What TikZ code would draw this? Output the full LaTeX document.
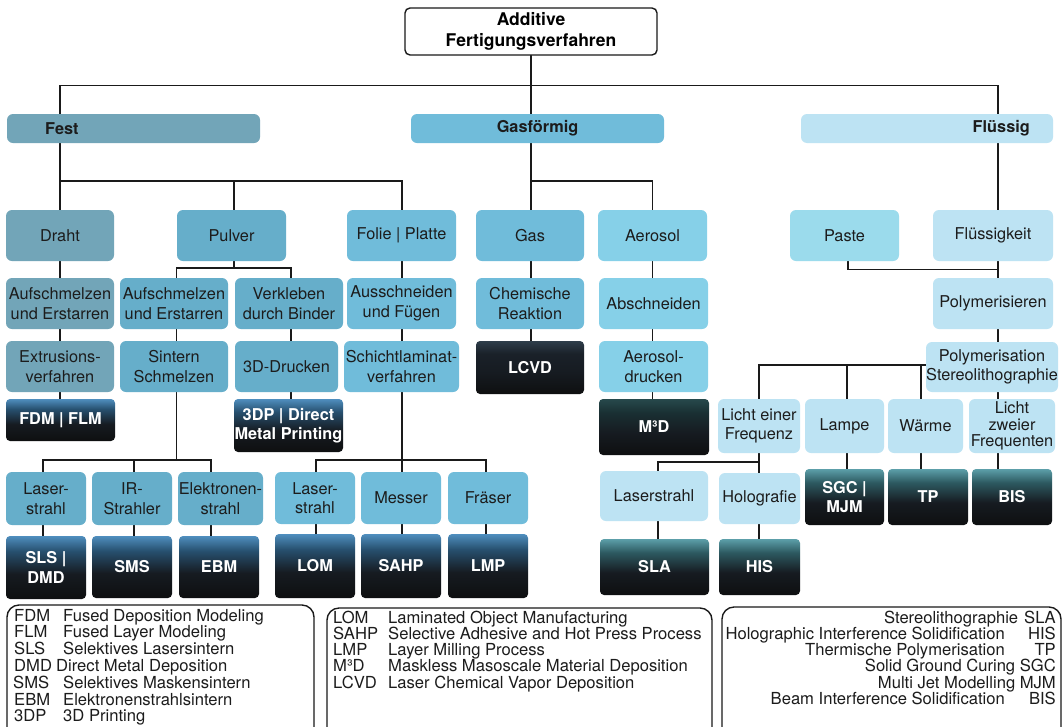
\documentclass[tikz,border=0pt]{standalone}
\usepackage{fontspec}
\setmainfont{TeX Gyre Heros}
\usetikzlibrary{backgrounds}
\pgfdeclarelayer{paper}
\pgfsetlayers{paper,background,main}
\definecolor{cA}{HTML}{72A5B8}
\definecolor{cB}{HTML}{66AECA}
\definecolor{cC}{HTML}{70BCDA}
\definecolor{cD}{HTML}{86D0E8}
\definecolor{cE}{HTML}{9BDBEC}
\definecolor{cF}{HTML}{BDE3F3}
\definecolor{txt}{HTML}{1C1C1C}
\definecolor{lc}{HTML}{1A1A1A}
\definecolor{dkbot}{HTML}{0E0F10}
\definecolor{dkmid}{HTML}{161B21}
\definecolor{bluem}{HTML}{27506F}
\definecolor{bluet}{HTML}{4F8EBE}
\definecolor{slm}{HTML}{1A2129}
\definecolor{slt}{HTML}{2E3D4A}
\definecolor{mtm}{HTML}{1A3033}
\definecolor{mtt}{HTML}{27494C}
\definecolor{tlm}{HTML}{2D5A61}
\definecolor{tlt}{HTML}{5C9FA9}
\pgfdeclareverticalshading{shBlue}{100bp}{color(0bp)=(dkbot); color(25bp)=(dkbot); color(45bp)=(dkmid); color(63bp)=(bluem); color(75bp)=(bluet); color(100bp)=(bluet)}
\pgfdeclareverticalshading{shSlate}{100bp}{color(0bp)=(dkbot); color(25bp)=(dkbot); color(45bp)=(dkmid); color(63bp)=(slm); color(75bp)=(slt); color(100bp)=(slt)}
\pgfdeclareverticalshading{shMt}{100bp}{color(0bp)=(dkbot); color(25bp)=(dkbot); color(45bp)=(dkmid); color(63bp)=(mtm); color(75bp)=(mtt); color(100bp)=(mtt)}
\pgfdeclareverticalshading{shTeal}{100bp}{color(0bp)=(dkbot); color(25bp)=(dkbot); color(45bp)=(dkmid); color(63bp)=(tlm); color(75bp)=(tlt); color(100bp)=(tlt)}
\newcommand\bfnt{\fontsize{16.3}{19.5}\selectfont}
\newcommand\bx[7]{\node[box,#6,minimum width={(#4)-(#2)},minimum height={(#5)-(#3)}] (#1) at ({((#2)+(#4))/2},{((#3)+(#5))/2}) {#7};}
\begin{document}
\begin{tikzpicture}[x=1pt,y=-1pt,
  box/.style={inner sep=0pt,outer sep=0pt,align=center,rounded corners=6pt,text=txt,font=\bfnt},
  lt/.style={fill=#1},
  dk/.style={shading=#1,rounded corners=4pt,text=white,font=\bfnt\bfseries},
  lg/.style={anchor=base west,inner sep=0pt,text=txt,font=\fontsize{16.6}{16.5}\selectfont},
  lgr/.style={anchor=base east,inner sep=0pt,text=txt,font=\fontsize{16.6}{16.5}\selectfont},
  legbox/.style={draw=lc,line width=1.4pt,rounded corners=12pt,fill=white},
  conn/.style={draw=lc,line width=1.7pt,line cap=rect}]
\useasboundingbox (0,0) rectangle (1062,726);
\begin{pgfonlayer}{paper}
\fill[white] (0,0) rectangle (1062,726);
\end{pgfonlayer}
% root
\node[box,draw=lc,line width=1.4pt,fill=white,rounded corners=5pt,font=\fontsize{17.5}{21}\selectfont\bfseries,text=black,minimum width=252,minimum height=47] (root) at (531,31.5) {Additive\\Fertigungsverfahren};
% level 1 bars
\bx{fest}{7}{114}{260}{143}{lt=cA}{}
\bx{gasf}{411}{114}{664}{143}{lt=cC,font=\bfnt\bfseries}{Gasförmig}
\bx{flu}{801}{114}{1053}{143}{lt=cF}{}
\node[anchor=west,inner sep=0pt,font=\bfnt\bfseries,text=txt] (festT) at (45,128.5) {Fest};
\node[anchor=east,inner sep=0pt,font=\bfnt\bfseries,text=txt] (fluT) at (1030,128.5) {Flüssig};
% level 2
\bx{draht}{6}{210}{114}{261}{lt=cA}{Draht}
\bx{pulver}{177}{210}{286}{261}{lt=cB}{Pulver}
\bx{folie}{347}{210}{456}{261}{lt=cC}{Folie | Platte}
\bx{gas}{476}{210}{584}{261}{lt=cC}{Gas}
\bx{aerosol}{598}{210}{707}{261}{lt=cD}{Aerosol}
\bx{paste}{790}{210}{899}{261}{lt=cE}{Paste}
\bx{flkeit}{933}{210}{1053}{261}{lt=cF}{Flüssigkeit}
% level 3
\bx{aufA}{6}{278}{114}{329}{lt=cA}{Aufschmelzen\\und Erstarren}
\bx{aufB}{120}{278}{228}{329}{lt=cB}{Aufschmelzen\\und Erstarren}
\bx{verk}{235}{278}{343}{329}{lt=cB}{Verkleben\\durch Binder}
\bx{aussch}{347}{278}{456}{329}{lt=cC}{Ausschneiden\\und Fügen}
\bx{chem}{476}{278}{584}{329}{lt=cC}{Chemische\\Reaktion}
\bx{absch}{599}{278}{708}{329}{lt=cD}{Abschneiden}
\bx{polym}{933}{278}{1053}{329}{lt=cF}{Polymerisieren}
% level 4
\bx{extr}{6}{341}{114}{392}{lt=cA}{Extrusions-\\verfahren}
\bx{sint}{120}{341}{228}{392}{lt=cB}{Sintern\\Schmelzen}
\bx{druck}{235}{341}{338}{392}{lt=cB}{3D-Drucken}
\bx{schicht}{344}{341}{459}{392}{lt=cC}{Schichtlaminat-\\verfahren}
\bx{lcvd}{476}{341}{584}{394}{dk=shSlate}{LCVD}
\bx{aerod}{599}{341}{708}{392}{lt=cD}{Aerosol-\\drucken}
\bx{polyst}{926}{342}{1058}{392}{lt=cF}{Polymerisation\\Stereolithographie}
% level 5
\bx{fdm}{6}{399}{115}{441}{dk=shBlue}{FDM | FLM}
\bx{dp3}{234}{399}{343}{452}{dk=shBlue}{3DP | Direct\\Metal Printing}
\bx{m3d}{599}{399}{709}{455}{dk=shMt}{M³D}
\bx{lichtA}{718}{399}{800}{453}{lt=cF}{Licht einer\\Frequenz}
\bx{lampe}{805}{399}{884}{453}{lt=cF}{Lampe}
\bx{waerme}{888}{399}{963}{453}{lt=cF}{Wärme}
\bx{lichtB}{969}{399}{1055}{453}{lt=cF,font=\fontsize{16.3}{16.7}\selectfont}{Licht\\zweier\\Frequenten}
% level 6
\bx{lasA}{6}{472}{86}{525}{lt=cB}{Laser-\\strahl}
\bx{ir}{92}{472}{172}{525}{lt=cB}{IR-\\Strahler}
\bx{elek}{178}{472}{263}{525}{lt=cB}{Elektronen-\\strahl}
\bx{lasB}{275}{472}{355}{524}{lt=cC}{Laser-\\strahl}
\bx{messer}{361}{472}{441}{524}{lt=cC}{Messer}
\bx{fraeser}{448}{472}{528}{524}{lt=cC}{Fräser}
\bx{laserst}{600}{471}{708}{521}{lt=cF}{Laserstrahl}
\bx{holo}{719}{473}{800}{524}{lt=cF}{Holografie}
\bx{sgc}{805}{469}{884}{525}{dk=shTeal}{SGC |\\MJM}
\bx{tp}{888}{469}{968}{525}{dk=shTeal}{TP}
\bx{bis}{972}{469}{1052}{525}{dk=shTeal}{BIS}
% level 7
\bx{sls}{6}{536}{86}{599}{dk=shBlue}{SLS |\\DMD}
\bx{sms}{92}{536}{172}{598}{dk=shBlue}{SMS}
\bx{ebm}{179}{536}{259}{598}{dk=shBlue}{EBM}
\bx{lom}{275}{534}{355}{598}{dk=shBlue}{LOM}
\bx{sahp}{361}{534}{441}{598}{dk=shBlue}{SAHP}
\bx{lmp}{448}{534}{528}{598}{dk=shBlue}{\raisebox{-3pt}{LMP}}
\bx{sla}{600}{539}{709}{595}{dk=shTeal}{SLA}
\bx{his}{719}{539}{800}{595}{dk=shTeal}{HIS}
% junction coordinates
\coordinate (J0) at (531,85.5);
\coordinate (JL) at (60,85.5);
\coordinate (JR) at (998,85.5);
\coordinate (F1) at (60,181);
\coordinate (F2) at (234,181);
\coordinate (F3) at (402,181);
\coordinate (P1) at (234,268);
\coordinate (P0) at (176.5,268);
\coordinate (P2) at (291,268);
\coordinate (Q0) at (43,460);
\coordinate (Q1) at (176.5,460);
\coordinate (Qm) at (134,460);
\coordinate (Q2) at (211,460);
\coordinate (S0) at (316,460);
\coordinate (S1) at (402,460);
\coordinate (S2) at (486,460);
\coordinate (G1) at (531,181);
\coordinate (G2) at (652.5,181);
\coordinate (K0) at (848,269.5);
\coordinate (K1) at (998,269.5);
\coordinate (R0) at (759,365);
\coordinate (R1) at (847,365);
\coordinate (R2) at (921,365);
\coordinate (T0) at (658,462);
\coordinate (T1) at (759,462);
\begin{scope}[on background layer]
\draw[conn] (J0 |- root.center) -- (J0);
\draw[conn] (JL) -- (JR);
\draw[conn] (JL) -- (JL |- fdm.center);
\draw[conn] (F1) -- (F3);
\draw[conn] (F2) -- (P1);
\draw[conn] (P0) -- (P2);
\draw[conn] (P0) -- (Q1);
\draw[conn] (P2) -- (P2 |- dp3.center);
\draw[conn] (Q0) -- (Q2);
\draw[conn] (Q0) -- (Q0 |- sls.center);
\draw[conn] (Qm) -- (Qm |- sms.center);
\draw[conn] (Q2) -- (Q2 |- ebm.center);
\draw[conn] (F3) -- (S1);
\draw[conn] (S0) -- (S2);
\draw[conn] (S0) -- (S0 |- lom.center);
\draw[conn] (S1) -- (S1 |- sahp.center);
\draw[conn] (S2) -- (S2 |- lmp.center);
\draw[conn] (J0) -- (G1) -- (G2);
\draw[conn] (G1) -- (G1 |- lcvd.center);
\draw[conn] (G2) -- (G2 |- m3d.center);
\draw[conn] (JR) -- (JR |- bis.center);
\draw[conn] (K0 |- paste.center) -- (K0) -- (K1);
\draw[conn] (R0) -- (R0 -| polyst.center);
\draw[conn] (R0) -- (R0 |- his.center);
\draw[conn] (R1) -- (R1 |- sgc.center);
\draw[conn] (R2) -- (R2 |- tp.center);
\draw[conn] (T0) -- (T1);
\draw[conn] (T0) -- (T0 |- sla.center);
\end{scope}
% legends
\begin{scope}
\clip (0,0) rectangle (1062,726);
\draw[legbox] (7,605) rectangle (314,760);
\draw[legbox] (327,608) rectangle (712,760);
\draw[legbox] (722,607) rectangle (1061,760);
\end{scope}
\node[lg] (a1) at (14,621) {FDM};
\node[lg] (b1) at (63,621) {Fused Deposition Modeling};
\node[lg] (a2) at (14,637.8) {FLM};
\node[lg] (b2) at (63,637.8) {Fused Layer Modeling};
\node[lg] (a3) at (14,654.6) {SLS};
\node[lg] (b3) at (63,654.6) {Selektives Lasersintern};
\node[lg] (a4) at (14,671.4) {DMD};
\node[lg] (b4) at (56,671.4) {Direct Metal Deposition};
\node[lg] (a5) at (13,688.2) {SMS};
\node[lg] (b5) at (63,688.2) {Selektives Maskensintern};
\node[lg] (a6) at (14,705) {EBM};
\node[lg] (b6) at (63,705) {Elektronenstrahlsintern};
\node[lg] (a7) at (14,721.8) {3DP};
\node[lg] (b7) at (63,721.8) {3D Printing};
\node[lg] (c1) at (333,623) {LOM};
\node[lg] (d1) at (388,623) {Laminated Object Manufacturing};
\node[lg] (c2) at (333,639.3) {SAHP};
\node[lg] (d2) at (388,639.3) {Selective Adhesive and Hot Press Process};
\node[lg] (c3) at (333,655.6) {LMP};
\node[lg] (d3) at (388,655.6) {Layer Milling Process};
\node[lg] (c4) at (333,671.9) {M³D};
\node[lg] (d4) at (388,671.9) {Maskless Masoscale Material Deposition};
\node[lg] (c5) at (333,688.2) {LCVD};
\node[lg] (d5) at (388,688.2) {Laser Chemical Vapor Deposition};
\node[lgr] (r1) at (1056,623) {Stereolithographie\hspace{6pt}SLA};
\node[lgr] (r2) at (1056,639.3) {Holographic Interference Solidification\makebox[51pt][r]{HIS}};
\node[lgr] (r3) at (1056,655.6) {Thermische Polymerisation\makebox[51pt][r]{TP}};
\node[lgr] (r4) at (1056,671.9) {Solid Ground Curing SGC};
\node[lgr] (r5) at (1056,688.2) {Multi Jet Modelling MJM};
\node[lgr] (r6) at (1056,704.5) {Beam Interference Solidification\makebox[51pt][r]{BIS}};
\end{tikzpicture}
\end{document}
